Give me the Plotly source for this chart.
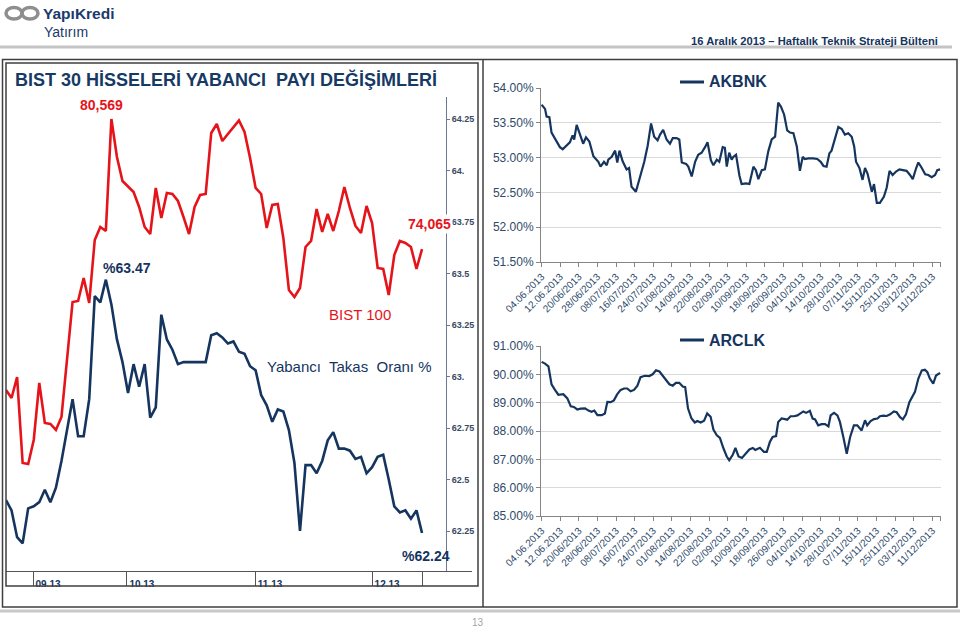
import plotly.graph_objects as go

W, H = 960, 628
FONT = 'Liberation Sans, Arial, sans-serif'
NAVY = '#15355f'
RED = '#e5141b'
AXC = '#2e4a6b'

# ---- left chart: BIST 100 vs foreign share (same sampling, index positions)
bist100 = [67020, 66620, 67670, 63370, 63320, 64520, 67370, 65370, 65320, 65020,
           65670, 68520, 71420, 71470, 72620, 71370, 74520, 75170, 74970, 80569,
           78670, 77470, 77220, 76920, 76170, 75170, 74820, 77120, 75620, 76870,
           76820, 76470, 75670, 74820, 76170, 76770, 76820, 79870, 80320, 79470,
           79820, 80170, 80500, 79920, 78620, 77120, 76820, 75120, 76270, 76320,
           74620, 72020, 71670, 72120, 74170, 74470, 76070, 74920, 75820, 74970,
           75970, 77170, 76120, 75220, 74870, 76220, 75370, 73120, 73070, 71770,
           73770, 74470, 74370, 74170, 73070, 74065]
takas = [62.40, 62.35, 62.22, 62.19, 62.36, 62.37, 62.39, 62.45, 62.39, 62.46,
         62.59, 62.74, 62.89, 62.71, 62.71, 62.89, 63.39, 63.36, 63.47, 63.35,
         63.18, 63.07, 62.92, 63.06, 62.95, 63.06, 62.80, 62.85, 63.30, 63.18,
         63.13, 63.06, 63.07, 63.07, 63.07, 63.07, 63.07, 63.20, 63.21, 63.19,
         63.16, 63.17, 63.12, 63.11, 63.05, 63.03, 62.91, 62.86, 62.78, 62.84,
         62.83, 62.74, 62.58, 62.25, 62.57, 62.57, 62.53, 62.59, 62.69, 62.73,
         62.65, 62.65, 62.64, 62.60, 62.61, 62.53, 62.56, 62.61, 62.62, 62.50,
         62.37, 62.34, 62.35, 62.31, 62.35, 62.24]
left_idx = list(range(len(takas)))
month_pos = [4.87, 21.8, 44.9, 66.0, 75]
month_lbl = ['09.13', '10.13', '11.13', '12.13', '']
takas_ticks = [64.25, 64.0, 63.75, 63.5, 63.25, 63.0, 62.75, 62.5, 62.25]
takas_lbls = ['64.25', '64.', '63.75', '63.5', '63.25', '63.', '62.75', '62.5', '62.25']

# ---- right charts: trading-day position since 04.06.2013
ak_t = [0, 1.1, 1.6, 2.5, 3.2, 4.3, 5.9, 6.8, 7.8, 9.1,
        10.0, 10.5, 11.3, 12.2, 13.4, 14.3, 15.4, 16.7, 18.3, 19.0,
        20.1, 21.0, 21.5, 22.6, 23.7, 24.4, 25.1, 26.1, 27.4, 28.2,
        29.0, 30.4, 31.5, 33.1, 34.2, 35.3, 36.3, 37.4, 38.2, 39.2,
        40.3, 41.4, 42.3, 43.5, 44.4, 45.2, 46.6, 47.3, 48.4, 49.5,
        50.5, 51.6, 52.7, 53.5, 54.6, 55.4, 56.5, 57.3, 58.4, 59.1,
        59.7, 60.5, 61.3, 61.8, 62.7, 63.8, 64.5, 65.9, 67.0, 68.3,
        69.1, 69.9, 71.0, 72.0, 73.1, 74.2, 75.3, 76.3, 77.2, 78.2,
        79.2, 80.1, 81.2, 82.3, 83.3, 84.2, 84.9, 86.0, 87.6, 88.9,
        90.0, 90.9, 91.9, 92.8, 93.5, 94.9, 95.7, 96.8, 97.8, 98.9,
        100.0, 100.8, 101.4, 102.5, 103.5, 104.3, 105.1, 106.5, 107.2, 108.1,
        109.1, 110.4, 111.3, 112.2, 113.2, 114.3, 115.4, 116.5, 117.7, 118.8,
        119.7, 120.8, 121.5, 122.6, 123.7, 124.7, 125.8, 126.9, 127.6, 128.5]
ak_v = [53.76, 53.70, 53.59, 53.58, 53.36, 53.28, 53.15, 53.12, 53.17, 53.22,
        53.32, 53.26, 53.47, 53.35, 53.20, 53.29, 53.23, 53.02, 52.94, 52.87,
        52.94, 52.89, 52.97, 53.01, 53.10, 52.93, 53.10, 52.95, 52.83, 52.85,
        52.58, 52.51, 52.68, 52.94, 53.17, 53.49, 53.30, 53.25, 53.33, 53.40,
        53.26, 53.20, 53.28, 53.28, 53.26, 52.93, 52.91, 52.87, 52.73, 52.94,
        53.04, 53.07, 53.15, 53.22, 52.96, 52.89, 52.97, 52.94, 53.15, 53.14,
        52.87, 53.07, 52.97, 53.01, 53.04, 52.74, 52.62, 52.63, 52.62, 52.87,
        52.82, 52.69, 52.82, 52.83, 53.09, 53.26, 53.30, 53.79, 53.73, 53.62,
        53.39, 53.36, 53.35, 53.16, 52.81, 53.01, 52.98, 52.99, 52.99, 52.98,
        52.94, 52.88, 52.87, 53.06, 53.10, 53.34, 53.44, 53.41, 53.33, 53.35,
        53.30, 53.16, 52.94, 52.85, 52.68, 52.85, 52.77, 52.51, 52.62, 52.35,
        52.35, 52.44, 52.57, 52.81, 52.75, 52.80, 52.83, 52.82, 52.81, 52.75,
        52.69, 52.85, 52.93, 52.85, 52.76, 52.75, 52.72, 52.75, 52.82, 52.83]

ar_t = [0, 1.1, 2.2, 3.2, 4.3, 5.4, 7.0, 8.3, 9.4, 10.4,
        11.5, 12.6, 14.0, 15.1, 16.1, 17.0, 18.0, 19.4, 20.4, 21.2,
        22.3, 23.3, 24.4, 25.5, 26.6, 27.6, 28.7, 29.8, 30.9, 31.9,
        33.3, 34.7, 35.8, 36.9, 38.0, 39.0, 40.1, 41.2, 42.3, 43.3,
        44.4, 45.5, 46.3, 47.2, 48.3, 49.4, 50.2, 51.3, 52.4, 53.4,
        54.5, 55.4, 56.5, 57.5, 58.6, 59.7, 60.5, 61.6, 62.5, 63.5,
        64.6, 65.9, 67.0, 68.1, 68.9, 70.4, 71.7, 72.6, 73.6, 74.5,
        75.6, 76.3, 77.4, 78.5, 79.2, 80.3, 81.4, 82.5, 83.5, 84.4,
        85.3, 86.5, 87.4, 88.2, 89.2, 90.3, 91.4, 92.5, 93.2, 94.3,
        95.4, 96.2, 97.3, 98.4, 99.5, 100.7, 101.8, 102.7, 103.2, 104.3,
        105.0, 106.1, 107.2, 108.3, 109.1, 110.2, 111.3, 112.4, 113.6, 114.5,
        115.6, 116.5, 117.5, 118.6, 119.7, 120.4, 121.5, 122.6, 123.6, 124.4,
        125.2, 126.3, 127.2, 128.5]
ar_v = [90.44, 90.38, 90.28, 89.65, 89.45, 89.28, 89.30, 89.15, 88.87, 88.85,
        88.76, 88.79, 88.80, 88.72, 88.68, 88.72, 88.56, 88.56, 88.62, 89.03,
        89.02, 89.08, 89.30, 89.45, 89.50, 89.50, 89.40, 89.45, 89.60, 89.90,
        89.95, 89.94, 90.00, 90.14, 90.10, 89.97, 89.82, 89.65, 89.60, 89.70,
        89.70, 89.57, 89.55, 88.80, 88.45, 88.30, 88.35, 88.30, 88.36, 88.62,
        88.50, 88.05, 87.85, 87.76, 87.40, 87.10, 86.97, 87.15, 87.40, 87.10,
        87.05, 87.20, 87.35, 87.40, 87.33, 87.41, 87.26, 87.26, 87.61, 87.79,
        87.82, 88.32, 88.44, 88.42, 88.40, 88.52, 88.52, 88.55, 88.61, 88.69,
        88.64, 88.71, 88.44, 88.41, 88.20, 88.24, 88.24, 88.16, 88.55, 88.64,
        88.55, 88.32, 87.79, 87.20, 87.79, 88.20, 88.20, 88.08, 88.02, 88.38,
        88.20, 88.35, 88.42, 88.44, 88.52, 88.54, 88.53, 88.59, 88.69, 88.66,
        88.49, 88.41, 88.59, 89.02, 89.26, 89.38, 89.85, 90.14, 90.16, 90.08,
        89.85, 89.67, 89.96, 90.05]

date_lbls = ['04.06.2013', '12.06.2013', '20/06/2013', '28/06/2013', '08/07/2013',
             '16/07/2013', '24/07/2013', '01/08/2013', '14/08/2013', '22/08/2013',
             '02/09/2013', '10/09/2013', '18/09/2013', '26/09/2013', '04/10/2013',
             '14/10/2013', '28/10/2013', '07/11/2013', '15/11/2013', '25/11/2013',
             '03/12/2013', '11/12/2013']
date_pos = [6 * i for i in range(len(date_lbls))]


def px(x):
    return x / W


def py(y):
    return 1 - y / H


fig = go.Figure()

fig.add_scatter(x=left_idx, y=takas, mode='lines', xaxis='x', yaxis='y',
                line=dict(color=NAVY, width=2.6), showlegend=False)
fig.add_scatter(x=left_idx, y=bist100, mode='lines', xaxis='x', yaxis='y2',
                line=dict(color=RED, width=2.6), showlegend=False)
fig.add_scatter(x=ak_t, y=ak_v, mode='lines', xaxis='x3', yaxis='y3',
                line=dict(color=NAVY, width=2.2), showlegend=False)
fig.add_scatter(x=ar_t, y=ar_v, mode='lines', xaxis='x4', yaxis='y4',
                line=dict(color=NAVY, width=2.2), showlegend=False)

tick_font = dict(family=FONT, size=12, color=AXC)
date_axis = dict(
    range=[-0.2, 128.8], tickmode='array',
    tickvals=date_pos + [128.5], ticktext=date_lbls + [''],
    tickangle=-45, tickfont=dict(family=FONT, size=10, color=AXC),
    ticks='outside', ticklen=4, tickcolor='#868686', automargin=False,
    showline=True, linecolor='#868686', linewidth=1, showgrid=False, zeroline=False,
)
pct_axis = dict(
    tickformat='.2f', ticksuffix='%', tickfont=tick_font,
    ticks='outside', ticklen=4, tickcolor='#868686', automargin=False,
    showline=True, linecolor='#868686', linewidth=1,
    gridcolor='#d9d9d9', gridwidth=1, zeroline=False,
)

fig.update_layout(
    width=W, height=H, margin=dict(l=0, r=0, t=0, b=0, autoexpand=False),
    paper_bgcolor='white', plot_bgcolor='rgba(0,0,0,0)',
    xaxis=dict(
        domain=[px(6), px(472)], range=[0, (472 - 6) / 5.547], anchor='y',
        tickmode='array', tickvals=month_pos, ticktext=month_lbl,
        ticks='outside', ticklen=14, tickcolor='#555', tickwidth=1,
        ticklabelstandoff=-10, ticklabelshift=15, automargin=False,
        tickfont=dict(family=FONT, size=10, color=NAVY, weight='bold'),
        showline=True, linecolor='#555', linewidth=1.2, showgrid=False, zeroline=False,
    ),
    yaxis=dict(
        domain=[py(571), py(97)], range=[62.0558, 64.3568],
        anchor='free', position=px(446), side='right', automargin=False,
        tickmode='array', tickvals=takas_ticks, ticktext=takas_lbls,
        ticks='outside', ticklen=3, tickcolor='#6b7a90',
        tickfont=dict(family=FONT, size=9, color='#3a4a63', weight='bold'),
        showline=True, linecolor='#6b7a90', linewidth=1, showgrid=False, zeroline=False,
    ),
    yaxis2=dict(
        overlaying='y', range=[57969, 81669], visible=False, automargin=False,
    ),
    xaxis3=dict(domain=[px(541), px(941)], anchor='y3', **date_axis),
    yaxis3=dict(domain=[py(262), py(88)], range=[51.5, 54.0], dtick=0.5,
                anchor='x3', **pct_axis),
    xaxis4=dict(domain=[px(541), px(941)], anchor='y4', **date_axis),
    yaxis4=dict(domain=[py(516), py(346)], range=[85, 91], dtick=1,
                anchor='x4', **pct_axis),
)


def box(x0, y0, x1, y1, **kw):
    return dict(type='rect', xref='paper', yref='paper',
                x0=px(x0), x1=px(x1), y0=py(y0), y1=py(y1), **kw)


def seg(x0, y0, x1, y1, color, width):
    return dict(type='line', xref='paper', yref='paper',
                x0=px(x0), x1=px(x1), y0=py(y0), y1=py(y1),
                line=dict(color=color, width=width))


FRAME = '#3f3f3f'
shapes = [
    # header / footer rules
    box(0, 45.5, 952, 48.5, fillcolor='#c4c4c4', line_width=0),
    seg(0, 611, 960, 611, '#c8c8c8', 3),
    # cover the clipped month labels, then the frames
    box(7, 587, 477, 606, fillcolor='white', line_width=0),
    box(2.5, 59.5, 957, 607, line=dict(color=FRAME, width=1.5)),
    seg(483, 59.5, 483, 607, FRAME, 1.5),
    box(6, 63, 478, 586, line=dict(color=FRAME, width=1.5)),
    # logo loops
    dict(type='circle', xref='paper', yref='paper', x0=px(6), x1=px(22),
         y0=py(7.5), y1=py(19), line=dict(color='#8e8e8e', width=3.5)),
    dict(type='circle', xref='paper', yref='paper', x0=px(22), x1=px(38),
         y0=py(7.5), y1=py(19), line=dict(color='#8e8e8e', width=3.5)),
]
# legend boxes for the two stock panels
for ly in (82, 340):
    shapes.append(box(656, ly - 8, 786, ly + 9, fillcolor='white', line_width=0))
    shapes.append(seg(680, ly, 704, ly, NAVY, 3))
fig.update_layout(shapes=shapes)


def note(text, x, y, size, color, bold=False, xanchor='center'):
    fig.add_annotation(
        text=f'<b>{text}</b>' if bold else text, x=px(x), y=py(y),
        xref='paper', yref='paper', xanchor=xanchor, yanchor='middle',
        showarrow=False, font=dict(family=FONT, size=size, color=color))


note('YapıKredi', 41, 13, 15.5, '#1b3a6b', bold=True, xanchor='left')
note('Yatırım', 42, 32, 14, '#1b3a6b', xanchor='left')
note('16 Aralık 2013 – Haftalık Teknik Strateji Bülteni', 940, 41, 11.2, NAVY,
     bold=True, xanchor='right')
note('BIST 30 HİSSELERİ YABANCI\u00a0 PAYI DEĞİŞİMLERİ', 13, 80, 18, '#173a64',
     bold=True, xanchor='left')
note('BIST 100', 360, 314, 15, RED)
note('Yabancı\u00a0 Takas\u00a0 Oranı %', 349, 366, 15, NAVY)
note('AKBNK', 707, 82, 16, NAVY, bold=True, xanchor='left')
note('ARCLK', 707, 340, 16, NAVY, bold=True, xanchor='left')
note('13', 478, 622, 10, '#a6a6a6')

# value call-outs tied to the data points
peak_i = bist100.index(max(bist100))
hi_i = takas.index(max(takas))
for text, xi, yv, yref, color, xs, ys, bg in [
    ('80,569', peak_i, bist100[peak_i], 'y2', RED, -10, 14, None),
    ('74,065', left_idx[-1], bist100[-1], 'y2', RED, 7, 25, 'white'),
    ('%63.47', hi_i, takas[hi_i], 'y', NAVY, 21, 12, None),
    ('%62.24', left_idx[-1], takas[-1], 'y', NAVY, 4, -23, None),
]:
    fig.add_annotation(text=f'<b>{text}</b>', x=xi, y=yv, xref='x', yref=yref,
                       xshift=xs, yshift=ys, showarrow=False,
                       bgcolor=bg, borderpad=1,
                       font=dict(family=FONT, size=14, color=color))

# page-style output: no body margin around the fixed-size figure, no toolbar
fig.write_html('out.html', config={'displayModeBar': False},
               post_script="document.body.style.margin='0';"
                           "document.body.style.overflow='hidden';")
